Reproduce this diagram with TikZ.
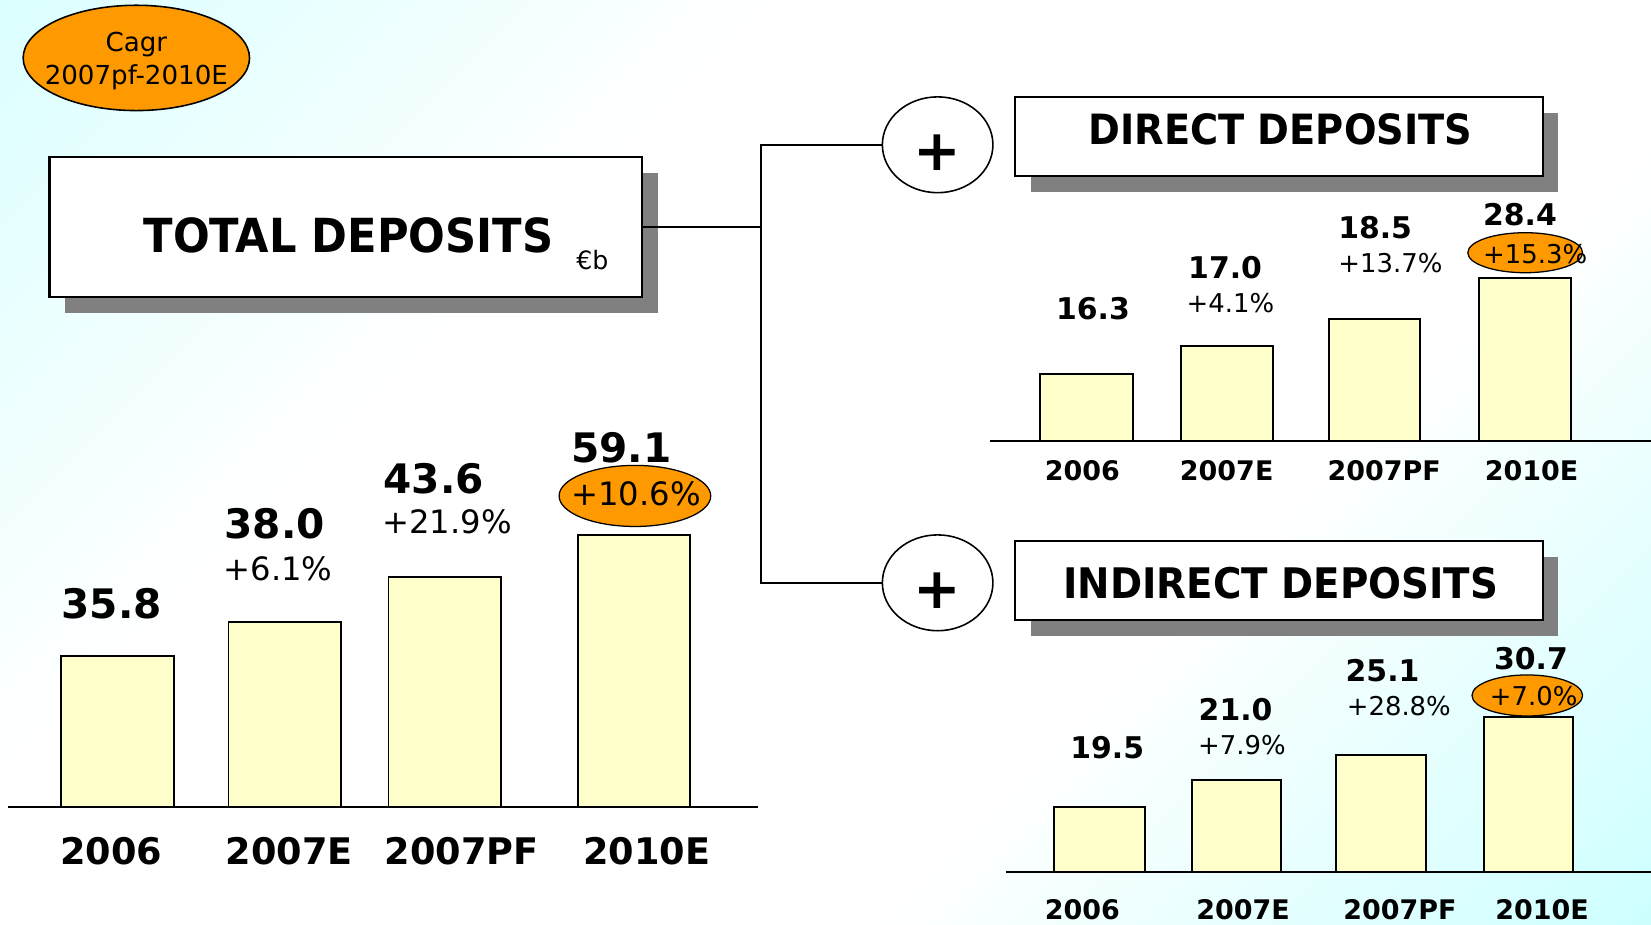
\documentclass[tikz,border=0pt]{standalone}
\usepackage{fontspec}
\setmainfont{DejaVu Sans}
\newfontfamily\titlefont[FakeStretch=0.92]{DejaVu Sans}
\usetikzlibrary{shapes.geometric,shadows}
\definecolor{bgA}{RGB}{218,255,255}
\definecolor{bgB}{RGB}{204,255,255}
\definecolor{shadowgray}{RGB}{128,128,128}
\definecolor{barfill}{RGB}{255,255,204}
\definecolor{hiorange}{RGB}{255,153,0}
\pgfdeclareverticalshading{bgshade}{100bp}{color(0bp)=(bgB); color(14bp)=(bgB); color(36bp)=(white); color(64bp)=(white); color(86bp)=(bgA); color(100bp)=(bgA)}
\tikzset{
  titlebox/.style={draw=black, line width=1pt, fill=white, rectangle, inner sep=0pt,
    general shadow={fill=shadowgray, shadow xshift=7.5pt, shadow yshift=-7.5pt}},
  plusring/.style={draw=black, line width=0.75pt, fill=white, ellipse, inner sep=0pt,
    minimum width=52.5pt, minimum height=45.5pt},
  plussign/.style={font=\bfseries\fontsize{27}{28}\selectfont, inner sep=0pt},
  hilite/.style={draw=black, line width=0.6pt, fill=hiorange, ellipse, inner sep=0pt},
  bar/.style={draw=black, line width=0.9pt, fill=barfill},
  axisline/.style={draw=black, line width=1pt},
  conn/.style={draw=black, line width=0.75pt},
  titletext/.style={font=\titlefont\bfseries\fontsize{#1}{#1}\selectfont, inner sep=0pt},
  bigval/.style={font=\bfseries\fontsize{19.3}{20}\selectfont, inner sep=0pt},
  bigpct/.style={font=\fontsize{15.3}{16}\selectfont, inner sep=0pt},
  bigcat/.style={font=\bfseries\fontsize{17.4}{18}\selectfont, inner sep=0pt},
  smval/.style={font=\bfseries\fontsize{14.2}{15}\selectfont, inner sep=0pt},
  smpct/.style={font=\fontsize{12.3}{13}\selectfont, inner sep=0pt},
  smcat/.style={font=\bfseries\fontsize{12.8}{13}\selectfont, inner sep=0pt},
}
\begin{document}
\begin{tikzpicture}[x=0.5pt, y=-0.5pt]
\useasboundingbox (0,0) rectangle (1568,878);
\shade[shading=bgshade, shading angle=45] (0,0) rectangle (1568,878);

% CAGR legend
\node[hilite, line width=0.75pt, minimum width=107.5pt, minimum height=50pt] (cagr) at (129.5,55) {};
\node[align=center, inner sep=0pt, font=\fontsize{12.4}{15.5}\selectfont]
  (cagrtxt) at (129.5,58) {Cagr\\2007pf-2010E};

% title boxes
\node[titlebox, minimum width=281.5pt, minimum height=66.5pt] (total) at (328.5,215.5) {};
\node[titletext=22.3] (totaltxt) at (331,223.5) {TOTAL DEPOSITS};
\node[font=\fontsize{12}{13}\selectfont, inner sep=0pt, anchor=base west] (unit) at (547,256) {€b};

\node[titlebox, minimum width=250.5pt, minimum height=37.5pt] (direct) at (1214.5,129.5) {};
\node[titletext=19.8] (directtxt) at (1216,123) {DIRECT DEPOSITS};

\node[titlebox, minimum width=250.5pt, minimum height=37.5pt] (indirect) at (1214.5,551.5) {};
\node[titletext=20] (indirecttxt) at (1216.5,553.5) {INDIRECT DEPOSITS};

% plus rings
\node[plusring] (plusA) at (890.5,137.5) {};
\node[plussign] (plusAtxt) at (890.5,145) {+};
\node[plusring] (plusB) at (890.5,553.5) {};
\node[plussign] (plusBtxt) at (890.5,561) {+};

% connectors
\coordinate (junction) at (723,215.5);
\draw[conn] (total.east) -- (junction);
\draw[conn] (junction) |- (plusA.west);
\draw[conn] (junction) |- (plusB.west);

% ---------- total chart ----------
\filldraw[bar] (58,623) rectangle (165,766);
\filldraw[bar] (217,591) rectangle (324,766);
\filldraw[bar] (369,548) rectangle (476,766);
\filldraw[bar] (549,508) rectangle (655,766);
\draw[axisline] (8,766) -- (720,766);

\node[bigval] (tv1) at (106,573.5) {35.8};
\node[bigval] (tv2) at (261,497.5) {38.0};
\node[bigval] (tv3) at (412,454.5) {43.6};
\node[bigval] (tv4) at (590,425) {59.1};

\node[bigpct] (tp2) at (264,540) {+6.1\%};
\node[bigpct] (tp3) at (424.5,496) {+21.9\%};
\node[hilite, minimum width=72pt, minimum height=29pt] (hlTotal) at (603,471) {};
\node[bigpct] (tp4) at (604,469) {+10.6\%};

\node[bigcat] (tc1) at (105.5,808.5) {2006};
\node[bigcat] (tc2) at (274.5,808.5) {2007E};
\node[bigcat] (tc3) at (438.5,808.5) {2007PF};
\node[bigcat] (tc4) at (614,808.5) {2010E};

% ---------- direct chart ----------
\filldraw[bar] (988,355) rectangle (1076,419);
\filldraw[bar] (1122,329) rectangle (1209,419);
\filldraw[bar] (1262,303) rectangle (1349,419);
\filldraw[bar] (1405,264) rectangle (1492,419);
\draw[axisline] (940,419) -- (1568,419);

\node[smval] (dv1) at (1038,293.5) {16.3};
\node[smval] (dv2) at (1163.5,254) {17.0};
\node[smval] (dv3) at (1306,216) {18.5};
\node[smval] (dv4) at (1443.5,203.5) {28.4};

\node[smpct] (dp2) at (1168.5,288) {+4.1\%};
\node[smpct] (dp3) at (1320.5,250) {+13.7\%};
\node[hilite, minimum width=54.5pt, minimum height=19pt] (hlDirect) at (1448.5,240) {};
\node[smpct] (dp4) at (1458,241.5) {+15.3\%};

\node[smcat] (dc1) at (1028,447) {2006};
\node[smcat] (dc2) at (1165,447) {2007E};
\node[smcat] (dc3) at (1314.5,447) {2007PF};
\node[smcat] (dc4) at (1454.5,447) {2010E};

% ---------- indirect chart ----------
\filldraw[bar] (1001,766) rectangle (1087,828);
\filldraw[bar] (1132,741) rectangle (1217,828);
\filldraw[bar] (1269,717) rectangle (1354,828);
\filldraw[bar] (1409,681) rectangle (1494,828);
\draw[axisline] (955,828) -- (1568,828);

\node[smval] (iv1) at (1051.5,710) {19.5};
\node[smval] (iv2) at (1173.5,673.5) {21.0};
\node[smval] (iv3) at (1313,637) {25.1};
\node[smval] (iv4) at (1454,625.5) {30.7};

\node[smpct] (ip2) at (1179.5,708) {+7.9\%};
\node[smpct] (ip3) at (1328.5,670.5) {+28.8\%};
\node[hilite, minimum width=52.5pt, minimum height=19.5pt] (hlIndirect) at (1450.5,660.5) {};
\node[smpct] (ip4) at (1456.5,661.5) {+7.0\%};

\node[smcat] (ic1) at (1028,864) {2006};
\node[smcat] (ic2) at (1180.5,864) {2007E};
\node[smcat] (ic3) at (1329.5,864) {2007PF};
\node[smcat] (ic4) at (1464.5,864) {2010E};
\end{tikzpicture}
\end{document}
